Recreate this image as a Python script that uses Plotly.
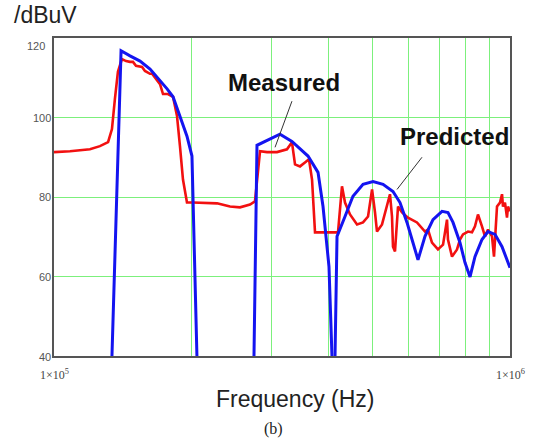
import numpy as np
import plotly.graph_objects as go

# Measured spectrum: frequency in kHz, level in dBuV
meas_khz = [100.0, 108.4, 119.9, 126.1, 131.4, 134.0, 136.0, 138.1, 140.9, 143.9,
            146.8, 149.0, 151.3, 154.4, 156.0, 158.3, 162.4, 164.1, 166.6, 170.8,
            173.4, 177.8, 182.4, 186.1, 188.9, 191.8, 195.7, 201.7, 227.8, 243.2,
            255.8, 269.1, 275.9, 283.0, 293.2, 308.3, 324.3, 332.5, 337.7, 346.3,
            355.1, 362.4, 368.0, 373.6, 419.6, 428.1, 434.7, 445.8, 461.9, 476.1,
            488.3, 498.3, 505.8, 510.9, 524.0, 537.4, 545.5, 551.1, 553.9, 559.5,
            565.2, 568.1, 579.7, 597.4, 625.2, 651.0, 660.9, 674.4, 695.1, 713.1,
            727.5, 731.1, 746.1, 765.2, 776.9, 788.7, 808.9, 825.4, 837.9, 850.7,
            868.1, 881.4, 894.9, 913.1, 922.4, 931.8, 936.5, 950.8, 960.5, 965.2,
            975.0, 984.9, 989.9, 1000.0]
meas_db = [91.3, 91.5, 92.0, 92.8, 93.8, 97.1, 104.6, 111.5, 114.7, 114.2,
           114.0, 114.0, 113.0, 112.7, 112.7, 111.7, 111.0, 111.0, 110.0, 108.4,
           105.9, 105.9, 105.2, 100.4, 92.8, 84.4, 78.6, 78.6, 78.4, 77.6,
           77.4, 78.1, 78.9, 91.5, 91.3, 91.3, 92.0, 93.8, 88.2, 87.7,
           88.7, 89.5, 84.4, 71.1, 71.1, 82.7, 78.6, 75.6, 73.1, 73.6,
           75.1, 81.9, 76.1, 71.3, 73.1, 77.6, 80.7, 75.1, 67.5, 66.3,
           72.6, 77.6, 76.1, 74.8, 73.6, 71.3, 71.8, 68.5, 66.8, 68.0,
           74.3, 69.3, 65.0, 66.8, 69.3, 70.6, 71.3, 71.1, 72.6, 75.6,
           72.6, 70.1, 71.8, 70.1, 65.0, 73.8, 77.6, 78.6, 80.7, 77.6,
           78.6, 74.8, 77.6, 76.4]

# Predicted spectrum (None separates the lobes)
pred_khz = [134.0, 140.3, 146.8, 154.4, 162.4, 170.8, 177.0, 182.4, 188.9, 195.7,
            200.7, 205.8, None,
            274.5, 278.7, 313.0, 332.5, 360.6, 379.3, 389.0, 400.9, 407.0, None,
            413.3, 417.5, 434.7, 452.5, 476.1, 500.8, 526.7, 553.9, 573.8, 594.4,
            612.7, 628.4, 651.0, 677.9, 709.4, 731.1, 749.9, 776.9, 796.7, 817.1,
            837.9, 868.1, 894.9, 927.1, 960.5, 984.9, 1000.0]
pred_db = [40.0, 116.8, 115.5, 114.2, 112.2, 109.4, 107.2, 105.2, 100.4, 95.3,
           90.3, 40.0, None,
           40.0, 93.0, 95.8, 94.0, 90.3, 86.2, 77.6, 62.5, 40.0, None,
           40.0, 70.1, 75.1, 80.2, 83.2, 83.9, 83.2, 81.4, 78.6, 73.6,
           68.5, 64.2, 70.1, 74.3, 76.4, 76.1, 73.6, 68.5, 63.5, 59.9,
           65.0, 69.3, 71.3, 70.6, 67.5, 64.2, 62.2]

# Callout leader lines (kHz, dBuV) and label anchors
measured_leader_khz = [332.5, 305.3]
measured_leader_db = [104.1, 92.5]
predicted_leader_khz = [641.2, 565.2]
predicted_leader_db = [90.0, 81.9]
measured_label = (319.3, 108.7)
predicted_label = (754.0, 95.3)

y_ticks = [120, 100, 80, 60, 40]
x_grid_hz = [1e5 * k for k in range(2, 10)]
x_end_labels = ["1×10<sup>5</sup>", "1×10<sup>6</sup>"]


def to_hz(values):
    return [None if v is None else v * 1000.0 for v in values]


GRID = "#7cf07c"
FRAME = "#555555"
SANS = "Liberation Sans, Arial, sans-serif"
SERIF = "Liberation Serif, Times New Roman, serif"

fig = go.Figure()
fig.add_trace(go.Scatter(x=to_hz(meas_khz), y=meas_db, mode="lines",
                         line=dict(color="#f21010", width=2.6), name="Measured",
                         connectgaps=False))
fig.add_trace(go.Scatter(x=to_hz(pred_khz), y=pred_db, mode="lines",
                         line=dict(color="#1414f0", width=3), name="Predicted",
                         connectgaps=False))
fig.add_trace(go.Scatter(x=to_hz(measured_leader_khz), y=measured_leader_db,
                         mode="lines", line=dict(color="#333333", width=1)))
fig.add_trace(go.Scatter(x=to_hz(predicted_leader_khz), y=predicted_leader_db,
                         mode="lines", line=dict(color="#333333", width=1)))

annotations = []
for lbl, (fk, db) in (("Measured", measured_label), ("Predicted", predicted_label)):
    annotations.append(dict(x=np.log10(fk * 1000.0), y=db, xref="x", yref="y",
                            text=f"<b>{lbl}</b>", showarrow=False,
                            font=dict(family=SANS, size=24, color="#111111"),
                            xanchor="center", yanchor="middle"))

# y tick labels, placed just left of the frame
y_shift = {120: -8, 40: -1}
x_shift = {120: -6}
for v in y_ticks:
    annotations.append(dict(x=0, y=v, xref="paper", yref="y", text=str(v),
                            showarrow=False, xanchor="right", yanchor="middle",
                            xshift=-1 + x_shift.get(v, 0), yshift=y_shift.get(v, 0),
                            font=dict(family=SANS, size=11, color="#555555")))

# x end labels at the decade limits
for xp, txt in zip([0, 1], x_end_labels):
    annotations.append(dict(x=xp, y=-0.057, xref="paper", yref="paper", text=txt,
                            showarrow=False, xanchor="center", yanchor="middle",
                            font=dict(family=SERIF, size=12, color="#444444")))

annotations += [
    dict(x=-0.092, y=1.072, xref="paper", yref="paper", text="/dBuV",
         showarrow=False, xanchor="left", yanchor="middle",
         font=dict(family=SANS, size=23, color="#222222")),
    dict(x=0.528, y=-0.135, xref="paper", yref="paper", text="Frequency (Hz)",
         showarrow=False, xanchor="center", yanchor="middle",
         font=dict(family=SANS, size=23, color="#222222")),
    dict(x=0.482, y=-0.228, xref="paper", yref="paper", text="(b)",
         showarrow=False, xanchor="center", yanchor="middle",
         font=dict(family=SERIF, size=16, color="#222222")),
]

fig.update_layout(
    width=537, height=440,
    margin=dict(l=54, r=27, t=38, b=84),
    paper_bgcolor="white", plot_bgcolor="white",
    showlegend=False,
    annotations=annotations,
    xaxis=dict(type="log", range=[5, 6], tickvals=x_grid_hz, showticklabels=False,
               showgrid=True, gridcolor=GRID, gridwidth=1, ticks="",
               showline=True, mirror=True, linecolor=FRAME, linewidth=2,
               zeroline=False, fixedrange=True),
    yaxis=dict(range=[40, 120], tickvals=[60, 80, 100], showticklabels=False,
               showgrid=True, gridcolor=GRID, gridwidth=1, ticks="",
               showline=True, mirror=True, linecolor=FRAME, linewidth=2,
               zeroline=False, fixedrange=True),
)

fig.write_html("out.html")
